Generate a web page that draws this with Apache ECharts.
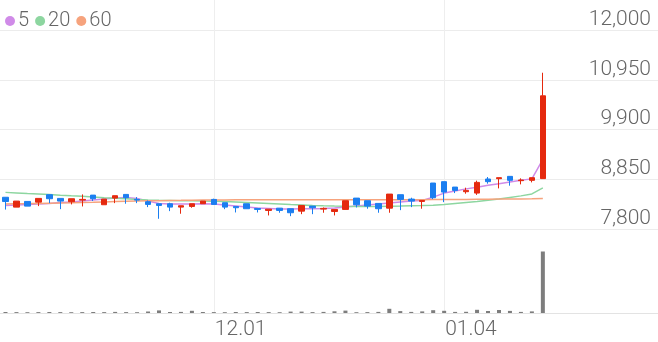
<!DOCTYPE html>
<html><head><meta charset="utf-8">
<script src="https://cdn.jsdelivr.net/npm/echarts@6/dist/echarts.min.js"></script>
<style>html,body{margin:0;padding:0;background:#fff}#c{width:658px;height:342px}</style>
</head><body><div id="c"></div>
<script>
const dates = ['11.04','11.05','11.06','11.09','11.10','11.11','11.12','11.13','11.16','11.17','11.18','11.19','11.20','11.23','11.24','11.25','11.26','11.27','11.30',
'12.01','12.02','12.03','12.04','12.07','12.08','12.09','12.10','12.11','12.14','12.15','12.16','12.17','12.18','12.21','12.22','12.23','12.24','12.28','12.29','12.30',
'01.04','01.05','01.06','01.07','01.08','01.11','01.12','01.13','01.14','01.15','01.18','01.19','01.20','01.21','01.22','01.25','01.26','01.27','01.28','01.29'];
const opens  = [8470,8262,8382,8367,8524,8446,8376,8410,8515,8312,8452,8530,8425,8376,8333,8333,8262,8276,8333,8424,8355,8276,8333,8234,8192,8240,8228,8177,8283,8220,8170,8213,8452,8397,8340,8240,8524,8431,8382,8770,8799,8685,8587,8558,8855,8862,8911,8820,8827,8863];
const closes = [8380,8389,8283,8446,8439,8389,8439,8425,8439,8431,8503,8461,8410,8319,8297,8262,8291,8333,8389,8319,8262,8249,8228,8213,8219,8192,8143,8297,8249,8235,8213,8397,8312,8283,8228,8537,8425,8389,8403,8460,8579,8615,8615,8784,8799,8883,8827,8834,8883,10611];
const lows   = [8210,8262,8283,8283,8346,8219,8319,8276,8389,8312,8346,8333,8346,8262,8016,8177,8122,8249,8333,8319,8219,8149,8228,8149,8086,8143,8071,8113,8113,8143,8086,8213,8255,8228,8143,8143,8198,8262,8228,8431,8367,8558,8545,8520,8757,8657,8714,8742,8784,8863];
const highs  = [8470,8389,8382,8446,8524,8446,8439,8530,8515,8431,8503,8530,8474,8403,8333,8355,8291,8333,8389,8440,8355,8276,8333,8234,8219,8240,8228,8297,8283,8255,8213,8397,8452,8397,8340,8537,8524,8460,8403,8770,8799,8685,8672,8820,8897,8883,8911,8869,8883,11098];
const volumes = [50000,45000,40000,45000,50000,45000,40000,45000,50000,45000,55000,45000,40000,75000,130000,50000,55000,110000,50000,45000,40000,50000,45000,50000,45000,40000,70000,70000,45000,55000,85000,120000,40000,45000,55000,210000,95000,55000,80000,140000,110000,55000,60000,160000,100000,150000,105000,55000,80000,3075000];
const ma5  = [8297,8308,8319,8329,8340,8361,8372,8393,8414,8435,8456,8467,8446,8393,8340,8329,8329,8329,8333,8329,8308,8287,8266,8245,8234,8223,8223,8228,8228,8234,8245,8266,8287,8308,8329,8350,8372,8389,8403,8473,8558,8604,8647,8679,8721,8757,8791,8827,8858,9270];
const ma20 = [8573,8562,8550,8540,8527,8512,8500,8490,8476,8462,8449,8438,8425,8414,8408,8403,8398,8395,8390,8386,8378,8369,8360,8350,8340,8330,8318,8308,8298,8291,8285,8280,8276,8276,8277,8281,8285,8290,8294,8300,8319,8340,8361,8382,8408,8435,8467,8499,8541,8668];
const ma60 = [8329,8333,8336,8340,8345,8350,8355,8361,8366,8372,8378,8384,8389,8394,8398,8403,8405,8408,8410,8412,8414,8415,8416,8417,8418,8418,8418,8418,8418,8418,8418,8418,8418,8417,8416,8415,8415,8416,8418,8420,8421,8423,8425,8427,8429,8431,8433,8435,8438,8445];
const priceTicks = [7800, 8850, 9900, 10950, 12000];
const volumeMax = 3100000;
const maNames = ['5', '20', '60'];
const maColors = ['#d08be8', '#8dd6a0', '#f6a37d'];

const candles = opens.map((o, i) => [o, closes[i], lows[i], highs[i]]);
const FONT = 'Roboto';
const TXT = '#666';
const monthStart = (idx) => idx > 0 && dates[idx].slice(0, 2) !== dates[idx - 1].slice(0, 2);

const chart = echarts.init(document.getElementById('c'), null, {renderer: 'canvas'});
chart.setOption({
  animation: false,
  backgroundColor: '#fff',
  textStyle: {fontFamily: FONT},
  legend: {
    left: 0, top: 6, icon: 'circle', itemWidth: 10, itemHeight: 10, itemGap: 6,
    data: maNames,
    textStyle: {color: TXT, fontSize: 20, fontWeight: 300, fontFamily: FONT, padding: [0, 0, 0, -2]}
  },
  grid: [
    {left: 0, right: 0, top: 30, height: 199},
    {left: 0, right: 0, top: 251, height: 62},
    {left: 0, right: 0, top: 0, height: 313}
  ],
  xAxis: [
    {type: 'category', gridIndex: 0, data: dates, boundaryGap: true,
     axisLine: {show: false}, axisTick: {show: false}, axisLabel: {show: false}, splitLine: {show: false}},
    {type: 'category', gridIndex: 1, data: dates, boundaryGap: true,
     axisLine: {show: true, lineStyle: {color: '#e3e3e3', width: 1}}, axisTick: {show: false},
     axisLabel: {show: true, interval: monthStart, align: 'left', color: TXT, fontSize: 21, fontWeight: 300, fontFamily: FONT, margin: 6, padding: [0, 0, 0, 1]},
     splitLine: {show: false}},
    {type: 'category', gridIndex: 2, data: dates, boundaryGap: true,
     axisLine: {show: false}, axisTick: {show: false}, axisLabel: {show: false},
     splitLine: {show: true, interval: monthStart, alignWithLabel: true, lineStyle: {color: '#eeeeee', width: 1}}}
  ],
  yAxis: [
    {type: 'value', gridIndex: 0, position: 'right', scale: true,
     min: priceTicks[0], max: priceTicks[priceTicks.length - 1], interval: priceTicks[1] - priceTicks[0],
     axisLine: {show: false}, axisTick: {show: false},
     axisLabel: {inside: true, margin: 7, verticalAlign: 'bottom', color: TXT, fontSize: 21, fontWeight: 300, fontFamily: FONT,
       formatter: v => v.toLocaleString('en-US')},
     splitLine: {show: true, lineStyle: {color: '#ececec', width: 1}}},
    {type: 'value', gridIndex: 1, min: 0, max: volumeMax, show: false, splitLine: {show: false}},
    {type: 'value', gridIndex: 2, min: 0, max: 1, show: false, splitLine: {show: false}}
  ],
  series: [
    {name: maNames[0], type: 'line', xAxisIndex: 0, yAxisIndex: 0, data: ma5, showSymbol: false, symbol: 'none',
     lineStyle: {color: maColors[0], width: 1.5}, itemStyle: {color: maColors[0]}, z: 1},
    {name: maNames[1], type: 'line', xAxisIndex: 0, yAxisIndex: 0, data: ma20, showSymbol: false, symbol: 'none',
     lineStyle: {color: maColors[1], width: 1.5}, itemStyle: {color: maColors[1]}, z: 1},
    {name: maNames[2], type: 'line', xAxisIndex: 0, yAxisIndex: 0, data: ma60, showSymbol: false, symbol: 'none',
     lineStyle: {color: maColors[2], width: 1.5}, itemStyle: {color: maColors[2]}, z: 1},
    {name: 'price', type: 'candlestick', xAxisIndex: 0, yAxisIndex: 0, data: candles, barWidth: 6, z: 3,
     itemStyle: {color: '#e5290e', color0: '#1b7ef0', borderColor: '#e5290e', borderColor0: '#1b7ef0', borderWidth: 1}},
    {name: 'volume', type: 'bar', xAxisIndex: 1, yAxisIndex: 1, data: volumes, barWidth: 4,
     itemStyle: {color: '#7d7d7d'}}
  ]
});
</script>
</body></html>
